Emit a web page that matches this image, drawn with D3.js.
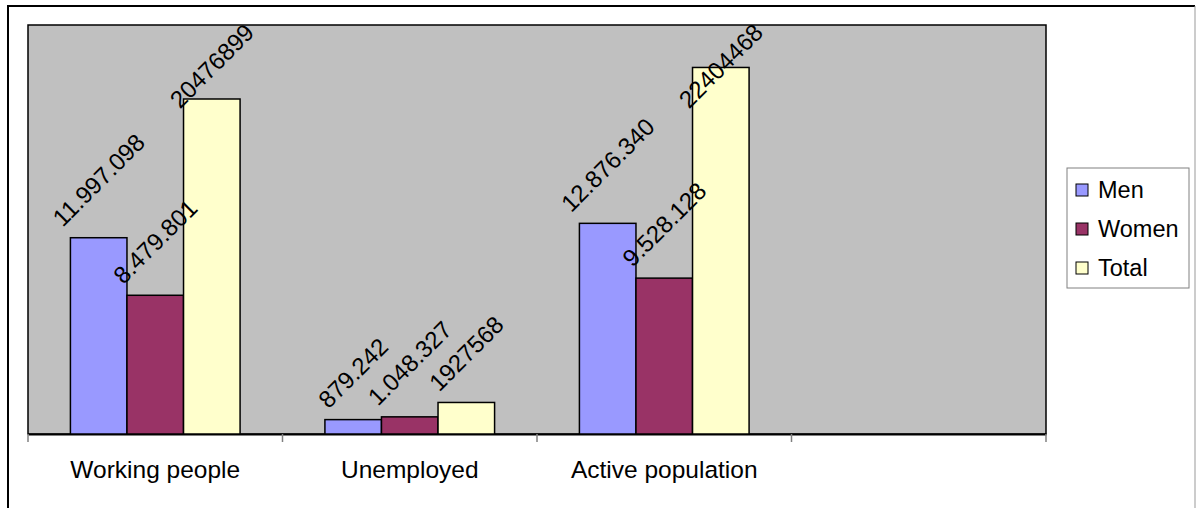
<!DOCTYPE html>
<html>
<head>
<meta charset="utf-8">
<script src="https://cdn.jsdelivr.net/npm/d3@7"></script>
<style>
  body { margin: 0; background: #fff; }
  svg { display: block; font-family: "Liberation Sans", Arial, sans-serif; }
</style>
</head>
<body>
<div id="chart"></div>
<script>
// categories (the 4th slot is empty in the original)
const categories = ["Working people", "Unemployed", "Active population", ""];
const seriesNames = ["Men", "Women", "Total"];
const men   = [11997098, 879242, 12876340];
const women = [8479801, 1048327, 9528128];
const total = [20476899, 1927568, 22404468];
// labels as printed in the original
const menLabels   = ["11.997.098", "879.242", "12.876.340"];
const womenLabels = ["8.479.801", "1.048.327", "9.528.128"];
const totalLabels = ["20476899", "1927568", "22404468"];
const colors = ["#9999FF", "#993366", "#FFFFCC"];

let W = 1196, H = 508;
let plot = {left: 28, top: 25, right: 1046, bottom: 434};

let svg = d3.select("#chart").append("svg")
    .attr("width", W).attr("height", H);

// outer chart border
svg.append("path").attr("d", "M8,510 V6 H1195").attr("fill", "none")
    .attr("stroke", "#000").attr("stroke-width", 2);
svg.append("line").attr("x1", 1195).attr("x2", 1195).attr("y1", 6).attr("y2", 510)
    .attr("stroke", "#999").attr("stroke-width", 1);

let x0 = d3.scaleBand()
    .domain(d3.range(categories.length))
    .range([plot.left, plot.right])
    .padding(0);

let x1 = d3.scaleBand()
    .domain(seriesNames)
    .range([0, x0.bandwidth()])
    .paddingInner(0)
    .paddingOuter(0.75);

let y = d3.scaleLinear()
    .domain([0, 25000000])
    .range([plot.bottom, plot.top]);

// plot area
svg.append("rect")
    .attr("x", plot.left).attr("y", plot.top)
    .attr("width", plot.right - plot.left).attr("height", plot.bottom - plot.top)
    .attr("fill", "#C0C0C0").attr("stroke", "#000").attr("stroke-width", 1.5);

// category axis
let xAxis = d3.axisBottom(x0).tickSize(0).tickFormat(i => categories[i]);
let gx = svg.append("g")
    .attr("transform", "translate(0," + plot.bottom + ")")
    .call(xAxis);
gx.select(".domain").attr("stroke", "#000").attr("stroke-width", 2);
gx.selectAll("text").attr("font-size", "24.5px").attr("fill", "#000")
    .attr("font-family", "'Liberation Sans', Arial, sans-serif")
    .attr("y", 0).attr("dy", 44);

// boundary ticks between categories
let bounds = d3.range(categories.length + 1).map(i => plot.left + i * x0.step());
svg.selectAll("line.tk").data(bounds).join("line")
    .attr("class", "tk")
    .attr("x1", d => d).attr("x2", d => d)
    .attr("y1", plot.bottom).attr("y2", plot.bottom + 8)
    .attr("stroke", "#808080").attr("stroke-width", 1.5);

let rows = [];
categories.forEach((c, i) => {
    if (i >= total.length) return;
    [men[i], women[i], total[i]].forEach((v, j) => {
        rows.push({cat: i, s: seriesNames[j], v: v, color: colors[j],
                   label: [menLabels, womenLabels, totalLabels][j][i]});
    });
});

svg.selectAll("rect.bar").data(rows).join("rect")
    .attr("class", "bar")
    .attr("x", d => x0(d.cat) + x1(d.s))
    .attr("y", d => y(d.v))
    .attr("width", x1.bandwidth())
    .attr("height", d => y(0) - y(d.v))
    .attr("fill", d => d.color)
    .attr("stroke", "#000").attr("stroke-width", 1.5);

// rotated data labels, centred over each bar
let lab = svg.selectAll("text.lbl").data(rows).join("text")
    .attr("class", "lbl")
    .attr("font-size", "24px")
    .attr("text-anchor", "middle")
    .attr("dy", "0.35em")
    .attr("fill", "#000")
    .text(d => d.label);

lab.each(function(d) {
    let len = this.getComputedTextLength();
    let half = len * 0.3536;
    let cx = x0(d.cat) + x1(d.s) + x1.bandwidth() / 2;
    let cy = Math.max(y(d.v) - half - 16, 20 + half + 8);
    d3.select(this).attr("transform", "translate(" + cx + "," + cy + ") rotate(-45)");
});

// legend
let lg = svg.append("g").attr("transform", "translate(1067,168)");
lg.append("rect").attr("width", 122).attr("height", 120)
    .attr("fill", "#fff").attr("stroke", "#808080").attr("stroke-width", 1);
seriesNames.forEach((s, i) => {
    let cy = 22 + i * 39;
    lg.append("rect").attr("x", 9).attr("y", cy - 6).attr("width", 12).attr("height", 12)
        .attr("fill", colors[i]).attr("stroke", "#000").attr("stroke-width", 1);
    lg.append("text").attr("x", 31).attr("y", cy).attr("dy", "0.35em")
        .attr("font-size", "23.5px").attr("fill", "#000").text(s);
});
</script>
</body>
</html>
